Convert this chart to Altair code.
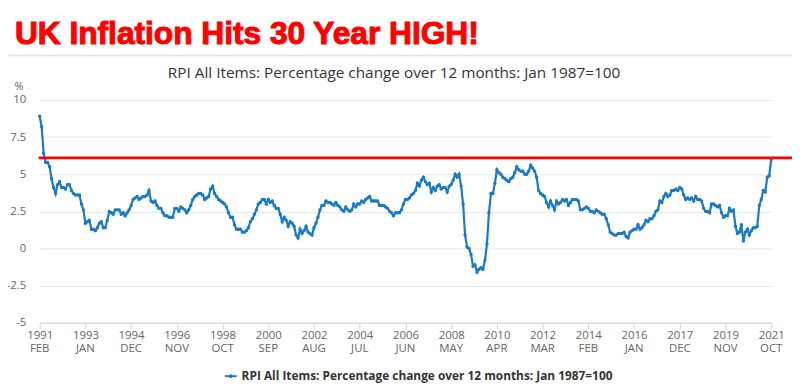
import json
import altair as alt
import pandas as pd

# ---------------- data ----------------
start_year = 1991
start_month = 2  # Feb 1991

rpi_pct = [
    # 1991 Feb-Dec
    8.9, 8.2, 6.4, 5.8, 5.8, 5.5, 4.7, 4.1, 3.7, 4.3, 4.5,
    # 1992
    4.1, 4.1, 4.0, 4.3, 4.3, 3.9, 3.7, 3.6, 3.6, 3.6, 3.0, 2.6,
    # 1993
    1.7, 1.8, 1.9, 1.3, 1.3, 1.2, 1.4, 1.7, 1.8, 1.4, 1.4, 1.9,
    # 1994
    2.5, 2.4, 2.3, 2.6, 2.6, 2.6, 2.3, 2.4, 2.2, 2.4, 2.6, 2.9,
    # 1995
    3.3, 3.4, 3.5, 3.3, 3.4, 3.5, 3.5, 3.6, 3.9, 3.2, 3.1, 3.2,
    # 1996
    2.9, 2.7, 2.7, 2.4, 2.2, 2.2, 2.1, 2.1, 2.1, 2.7, 2.7, 2.5,
    # 1997
    2.8, 2.7, 2.6, 2.4, 2.6, 2.9, 3.3, 3.5, 3.6, 3.7, 3.7, 3.6,
    # 1998
    3.3, 3.4, 3.5, 4.0, 4.2, 3.7, 3.5, 3.3, 3.2, 3.1, 3.0, 2.8,
    # 1999
    2.4, 2.1, 2.1, 1.6, 1.3, 1.3, 1.3, 1.1, 1.1, 1.2, 1.4, 1.8,
    # 2000
    2.0, 2.3, 2.6, 3.0, 3.1, 3.3, 3.3, 3.0, 3.3, 3.1, 3.2, 2.9,
    # 2001
    2.7, 2.7, 2.3, 1.8, 2.1, 1.9, 1.5, 1.8, 1.7, 1.5, 0.9, 0.7,
    # 2002
    1.3, 1.0, 1.2, 1.5, 1.1, 1.0, 0.9, 1.4, 1.7, 2.1, 2.6, 2.9,
    # 2003
    2.9, 3.2, 3.1, 3.1, 3.0, 2.9, 3.1, 2.9, 2.8, 2.6, 2.5, 2.8,
    # 2004
    2.6, 2.5, 2.6, 3.0, 2.8, 3.0, 3.0, 3.2, 3.1, 3.3, 3.4, 3.5,
    # 2005
    3.2, 3.2, 3.2, 3.2, 2.9, 2.9, 2.9, 2.8, 2.7, 2.5, 2.4, 2.2,
    # 2006
    2.4, 2.4, 2.4, 2.6, 3.0, 3.3, 3.3, 3.4, 3.6, 3.7, 3.9, 4.4,
    # 2007
    4.2, 4.6, 4.8, 4.5, 4.3, 4.4, 3.8, 4.1, 3.9, 4.2, 4.3, 4.0,
    # 2008
    4.1, 4.1, 3.8, 4.2, 4.3, 4.6, 5.0, 4.8, 5.0, 4.2, 3.0, 0.9,
    # 2009
    0.1, 0.0, -0.4, -1.2, -1.1, -1.6, -1.4, -1.3, -1.4, -0.8, 0.3, 2.4,
    # 2010
    3.7, 3.7, 4.4, 5.3, 5.1, 5.0, 4.8, 4.7, 4.6, 4.5, 4.7, 4.8,
    # 2011
    5.1, 5.5, 5.3, 5.2, 5.2, 5.0, 5.0, 5.2, 5.6, 5.4, 5.2, 4.8,
    # 2012
    3.9, 3.7, 3.6, 3.5, 3.1, 2.8, 3.2, 2.9, 2.6, 3.2, 3.0, 3.1,
    # 2013
    3.3, 3.2, 3.3, 2.9, 3.1, 3.3, 3.3, 3.3, 3.2, 2.6, 2.6, 2.7,
    # 2014
    2.8, 2.7, 2.5, 2.5, 2.4, 2.6, 2.5, 2.4, 2.3, 2.3, 2.0, 1.6,
    # 2015
    1.1, 1.0, 0.9, 0.9, 1.0, 1.0, 1.0, 1.1, 0.8, 0.7, 1.1, 1.2,
    # 2016
    1.3, 1.3, 1.6, 1.3, 1.4, 1.6, 1.9, 1.8, 2.0, 2.0, 2.2, 2.5,
    # 2017
    2.6, 3.2, 3.1, 3.5, 3.7, 3.5, 3.6, 3.9, 3.9, 4.0, 3.9, 4.1,
    # 2018
    4.0, 3.6, 3.3, 3.4, 3.3, 3.4, 3.2, 3.5, 3.3, 3.3, 3.2, 2.7,
    # 2019
    2.5, 2.5, 2.4, 3.0, 3.0, 2.9, 2.8, 2.9, 2.4, 2.1, 2.2, 2.2,
    # 2020
    2.7, 2.5, 2.6, 1.5, 1.0, 1.1, 1.6, 0.5, 1.1, 1.3, 0.9, 1.2,
    # 2021 Jan-Oct
    1.4, 1.4, 1.5, 2.9, 3.3, 3.9, 3.8, 4.8, 4.9, 6.0,
]

tick_years = ["1991", "1993", "1994", "1996", "1998", "2000", "2002", "2004", "2006",
              "2008", "2010", "2012", "2014", "2016", "2017", "2019", "2021"]
tick_months = ["FEB", "JAN", "DEC", "NOV", "OCT", "SEP", "AUG", "JUL", "JUN",
               "MAY", "APR", "MAR", "FEB", "JAN", "DEC", "NOV", "OCT"]
y_ticks = [-5, -2.5, 0, 2.5, 5, 7.5, 10]
threshold = 6.1

headline = "UK Inflation Hits 30 Year HIGH!"
series_name = "RPI All Items: Percentage change over 12 months: Jan 1987=100"
y_unit = "%"

# ---------------- build ----------------
MONTHS = ["JAN", "FEB", "MAR", "APR", "MAY", "JUN", "JUL", "AUG", "SEP", "OCT", "NOV", "DEC"]
df = pd.DataFrame({"idx": list(range(len(rpi_pct))), "value": rpi_pct})
tick_idx = [(int(y) - start_year) * 12 + MONTHS.index(m) + 1 - start_month
            for y, m in zip(tick_years, tick_months)]
year_expr = f"{json.dumps(tick_years)}[indexof({json.dumps(tick_idx)}, datum.value)]"
month_df = pd.DataFrame({"idx": tick_idx, "m": tick_months})

W, H = 739, 225
BLUE = "#1a7ac4"
FONT = "Open Sans"

x_scale = alt.Scale(domain=[0, len(rpi_pct) - 1], nice=False, zero=False)
y_scale = alt.Scale(domain=[-5, 10], nice=False, zero=False)

x_axis = alt.Axis(values=tick_idx, labelExpr=year_expr, grid=False,
                  domainColor="#ccd6eb", tickColor="#ccd6eb", tickSize=6,
                  labelColor="#666666", labelFontSize=11.5, labelFont=FONT,
                  labelPadding=1, labelBaseline="top",
                  labelFlush=False, labelOverlap=False, title=None)
y_axis = alt.Axis(values=y_ticks, labelExpr="'' + datum.value", domain=False,
                  ticks=False, tickSize=0, gridColor="#e6e6e6",
                  labelColor="#666666", labelFontSize=11.5, labelFont=FONT,
                  labelPadding=14, labelOverlap=False, labelFlush=False,
                  title=None)

line = alt.Chart(df).mark_line(
    color=BLUE, strokeWidth=2.2,
    point=alt.OverlayMarkDef(color=BLUE, size=12, filled=True)
).encode(x=alt.X("idx:Q", scale=x_scale, axis=x_axis),
         y=alt.Y("value:Q", scale=y_scale, axis=y_axis))

month_labels = alt.Chart(month_df).mark_text(
    font=FONT, fontSize=11.5, color="#666666", align="center", baseline="middle"
).encode(x=alt.X("idx:Q", scale=x_scale, axis=x_axis), y=alt.value(H + 27), text="m:N")

red_rule = alt.Chart(pd.DataFrame({"v": [threshold]})).mark_rule(
    color="#ff0000", strokeWidth=3).encode(
    y=alt.Y("v:Q", scale=y_scale, axis=y_axis), x=alt.value(-1), x2=alt.value(W + 21))

one = lambda t: pd.DataFrame({"t": [t]})

border_h = alt.Chart(one("")).mark_rule(color="#e4e4e4", strokeWidth=1.5).encode(
    x=alt.value(-40), x2=alt.value(W + 21), y=alt.value(-45))
border_v = alt.Chart(one("")).mark_rule(color="#e4e4e4", strokeWidth=2.5).encode(
    x=alt.value(-38), y=alt.value(-45), y2=alt.value(300))

title = alt.Chart(one(headline)).mark_text(
    font="Liberation Sans", fontSize=32, fontWeight="bold", align="left",
    baseline="alphabetic", color="#ff0000", stroke="#ff0000", strokeWidth=1.1).encode(
    text="t:N", x=alt.value(-25), y=alt.value(-57))

subtitle = alt.Chart(one(series_name)).mark_text(
    font=FONT, fontSize=15.5, align="center", baseline="alphabetic",
    color="#333333").encode(text="t:N", x=alt.value(358), y=alt.value(-22))

unit = alt.Chart(one(y_unit)).mark_text(
    font=FONT, fontSize=11, align="center", baseline="middle",
    color="#666666").encode(text="t:N", x=alt.value(-21), y=alt.value(-13))

leg_line = alt.Chart(one("")).mark_rule(color=BLUE, strokeWidth=2).encode(
    x=alt.value(187), x2=alt.value(199), y=alt.value(279))
leg_pt = alt.Chart(one("")).mark_point(color=BLUE, filled=True, size=14, opacity=1).encode(
    x=alt.value(193), y=alt.value(279))
leg_text = alt.Chart(one(series_name)).mark_text(
    font=FONT, fontSize=12, fontWeight="bold", align="left", baseline="middle",
    color="#333333").encode(text="t:N", x=alt.value(204), y=alt.value(279))

chart = alt.layer(
    border_h, border_v, line, month_labels, red_rule, title, subtitle, unit,
    leg_line, leg_pt, leg_text
).properties(
    width=W, height=H,
    autosize=alt.AutoSizeParams(type="none"),
    padding={"left": 32, "top": 91, "right": 21, "bottom": 60},
    background="white",
).configure_view(stroke=None)

chart.save("out.html", embed_options={"renderer": "svg", "actions": False})
